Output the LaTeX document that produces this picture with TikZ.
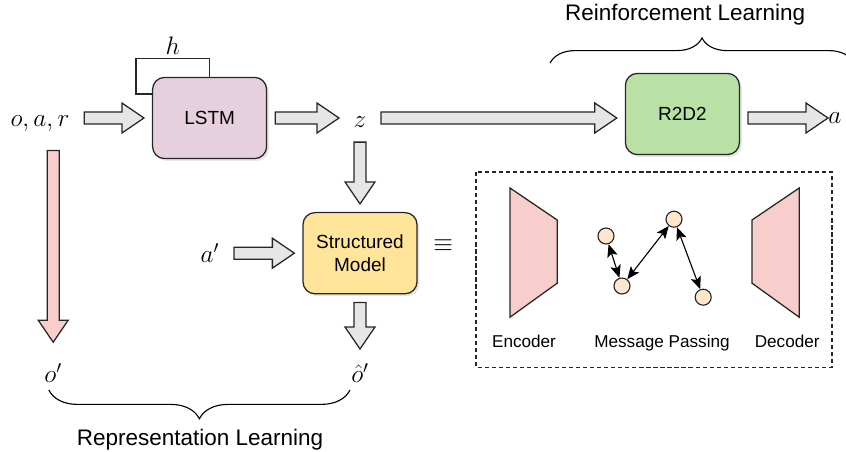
\documentclass[tikz,border=0pt]{standalone}
\usepackage{fix-cm}
\usepackage[no-math]{fontspec}
\setmainfont{Liberation Sans}
\usetikzlibrary{calc,arrows.meta,shadows,decorations.pathreplacing}

\definecolor{arrowgray}{HTML}{E6E6E6}
\definecolor{pinkfill}{HTML}{F8CECC}
\definecolor{lstmfill}{HTML}{E6D0DE}
\definecolor{r2d2fill}{HTML}{B9E0A5}
\definecolor{modelfill}{HTML}{FFE599}
\definecolor{nodefill}{HTML}{FFE6CC}

\tikzset{
	startgap/.store in=\startgap, startgap=0.2cm,
	endgap/.store in=\endgap, endgap=0.2cm,
	fatfill/.store in=\fatfill, fatfill=arrowgray,
	fatline/.style={draw=black!85, line width=0.9pt, fill=\fatfill, line join=miter},
	block/.style={draw=black!85, line width=0.9pt, rounded corners=0.3cm, minimum width=2.85cm, minimum height=2.03cm, align=center, font=\fontsize{13.5}{16}\selectfont, drop shadow={shadow xshift=0.06cm, shadow yshift=-0.06cm, opacity=0.2}},
	mathlbl/.style={inner sep=0.16cm, font=\fontsize{18}{20}\selectfont},
	partlbl/.style={inner sep=0pt, anchor=base, font=\fontsize{12.2}{14}\selectfont},
	bracelbl/.style={inner sep=0pt, anchor=base, font=\fontsize{16}{19}\selectfont},
	mpnode/.style={circle, draw=black!85, line width=0.8pt, fill=nodefill, minimum size=0.4cm, inner sep=0pt},
	mpedge/.style={{Stealth[length=9pt, width=7.5pt, inset=2pt]}-{Stealth[length=9pt, width=7.5pt, inset=2pt]}, line width=0.8pt},
	trap/.style={draw=black!85, line width=0.9pt, fill=pinkfill, line join=miter},
	loopline/.style={draw=black!85, line width=0.8pt}
}
\def\fatarrow[#1](#2)(#3){%
	\begin{scope}[#1]
		\coordinate (fa-a) at (#2);
		\coordinate (fa-b) at (#3);
		\coordinate (fa-s) at ($(fa-a)!\startgap!(fa-b)$);
		\coordinate (fa-e) at ($(fa-b)!\endgap!(fa-a)$);
		\coordinate (fa-h) at ($(fa-e)!0.55cm!(fa-s)$);
		\draw[fatline] ($(fa-s)!0.15cm!90:(fa-e)$) -- ($(fa-h)!0.15cm!90:(fa-e)$) -- ($(fa-h)!0.375cm!90:(fa-e)$) -- (fa-e) -- ($(fa-h)!0.375cm!-90:(fa-e)$) -- ($(fa-h)!0.15cm!-90:(fa-e)$) -- ($(fa-s)!0.15cm!-90:(fa-e)$) -- cycle;
	\end{scope}}

\begin{document}
\begin{tikzpicture}
	%%%%% START %%%%%
	
	\useasboundingbox (0, 0) rectangle (21.15, -11.3);
	
	\node[block, fill=lstmfill] (lstm) at (5.24, -2.95) {LSTM};
	\node[block, fill=r2d2fill] (r2d2) at (17.06, -2.85) {R2D2};
	\node[block, fill=modelfill] (model) at (9.0, -6.33) {Structured\\Model};
	
	\node[mathlbl] (oar) at (1.0, -3.1) {$o, a, r$};
	\node[mathlbl] (z) at (9.0, -3.05) {$z$};
	\node[mathlbl, inner sep=0pt, anchor=west] (aout) at (20.7, -2.95) {$a$};
	\node[mathlbl] (aprime) at (5.25, -6.33) {$a'$};
	\node[mathlbl] (oprime) at (1.33, -9.33) {$o'$};
	\node[mathlbl] (ohat) at (9.0, -9.33) {$\hat{o}'$};
	\node[mathlbl] (equiv) at (11.08, -6.15) {$\equiv$};
	
	\draw[loopline] ([yshift=0.6cm]lstm.west) -- ++(-0.4, 0) |- node[pos=0.75, above, mathlbl, inner sep=0.08cm] (h) {$h$} ([yshift=0.45cm]lstm.north) -- (lstm.north);
	
	\fatarrow[](oar.east |- lstm.west)(lstm.west)
	\fatarrow[](lstm.east)(z.west |- lstm.east)
	\fatarrow[](z.east |- lstm.east)(r2d2.west |- lstm.east)
	\fatarrow[endgap=0cm](r2d2.east |- lstm.east)(aout.west)
	\fatarrow[](z.south)(model.north)
	\fatarrow[](aprime.east)(model.west)
	\fatarrow[](model.south)(ohat.north)
	\fatarrow[fatfill=pinkfill, startgap=0.3cm, endgap=0.37cm](oar.south -| oprime.north)(oprime.north)
	
	% structured model parts
	\draw[loopline, dash pattern=on 3pt off 2pt] (11.9, -4.3) rectangle (20.8, -9.18);
	
	\draw[trap] (12.75, -4.7) -- (13.93, -5.5) -- (13.93, -7.08) -- (12.75, -7.93) -- cycle;
	\draw[trap] (19.98, -4.7) -- (18.8, -5.5) -- (18.8, -7.08) -- (19.98, -7.93) -- cycle;
	
	\node[mpnode] (c1) at (15.15, -5.9) {};
	\node[mpnode] (c2) at (15.55, -7.15) {};
	\node[mpnode] (c3) at (16.85, -5.48) {};
	\node[mpnode] (c4) at (17.58, -7.43) {};
	\draw[mpedge] (c1) -- (c2);
	\draw[mpedge] (c2) -- (c3);
	\draw[mpedge] (c3) -- (c4);
	
	\node[partlbl] (enclbl) at (13.1, -8.7) {Encoder};
	\node[partlbl] (mplbl) at (16.55, -8.7) {Message Passing};
	\node[partlbl] (declbl) at (19.68, -8.7) {Decoder};
	
	% braces
	\draw[decorate, decoration={brace, amplitude=0.63cm}, line width=0.8pt] (13.75, -1.58) -- (21.35, -1.58);
	\node[bracelbl] (rllbl) at (17.13, -0.51) {Reinforcement Learning};
	
	\draw[decorate, decoration={brace, amplitude=0.72cm, mirror}, line width=0.8pt] (1.22, -9.75) -- (8.75, -9.75);
	\node[bracelbl] (replbl) at (5.0, -11.13) {Representation Learning};
	
	%%%%% END %%%%%
\end{tikzpicture}
\end{document}
